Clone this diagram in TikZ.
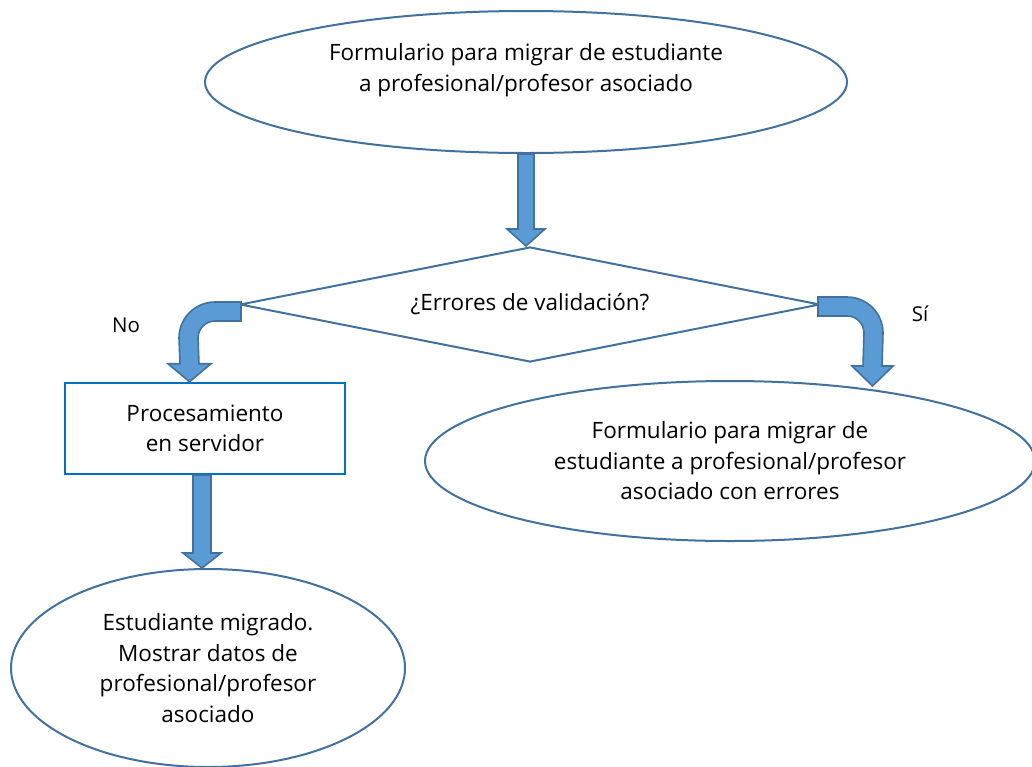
\documentclass[tikz,border=0pt]{standalone}
\usepackage{fontspec}
\setmainfont{Open Sans}
\usetikzlibrary{shapes.geometric,calc}
\definecolor{outl}{RGB}{65,113,156}
\definecolor{afill}{RGB}{91,155,213}
\definecolor{rline}{RGB}{0,112,192}
\begin{document}
\begin{tikzpicture}[x=1pt,y=-1pt,
  oval/.style={ellipse,draw=outl,line width=2pt,inner sep=0pt},
  txt/.style={align=center,font=\fontsize{22.5}{30.5}\selectfont,text=black,inner sep=0pt},
  barrow/.style={fill=afill,draw=outl,line width=1.6pt,line join=miter},
  lbl/.style={font=\fontsize{20.5}{24}\selectfont,text=black}]
\useasboundingbox (0,0) rectangle (1032,766);

% shapes
\node[oval,minimum width=642pt,minimum height=142pt,
  label={[txt,yshift=12pt]center:Formulario para migrar de estudiante\\a profesional/profesor asociado}] (top) at (526,82) {};
\node[diamond,draw=outl,line width=2pt,inner sep=0pt,minimum width=580pt,minimum height=115pt,
  label={[txt]center:¿Errores de validación?}] (dia) at (530,304.5) {};
\node[draw=rline,line width=2.5pt,minimum width=280pt,minimum height=91pt,txt] (proc) at (205,428.5) {Procesamiento\\en servidor};
\node[oval,txt,minimum width=394pt,minimum height=198pt] (ok) at (208,668) {Estudiante migrado.\\Mostrar datos de\\profesional/profesor\\asociado};
\node[oval,txt,minimum width=610pt,minimum height=160pt] (err) at (730,461) {Formulario para migrar de\\estudiante a profesional/profesor\\asociado con errores};

\node[lbl] (no) at (126,325) {No};
\node[lbl] (si) at (920,314) {Sí};

% top straight arrow
\path[barrow] ($(top.south)+(-8,0)$) -- ($(top.south |- dia.north)+(-8,-17)$) -- ++(-11,0)
  -- (top.south |- dia.north) -- ++(19,-17) -- ++(-11,0) -- ($(top.south)+(8,0)$) -- cycle;

% bottom straight arrow
\coordinate (b1) at ($(proc.south)+(-3,0)$);
\path[barrow] ($(b1)+(-9,0)$) -- ($(b1 |- ok.north)+(-9,-15)$) -- ++(-10,0)
  -- (b1 |- ok.north) -- ++(19,-15) -- ++(-10,0) -- ($(b1)+(9,0)$) -- cycle;

% left bent arrow (No)
\coordinate (ls) at ($(dia.west)+(2,-2.5)$);
\coordinate (lt) at ($(proc.north)+(-15.5,0)$);
\path[barrow] (ls) -- ($(ls)+(-26,0)$)
  .. controls ($(ls)+(-45.9,0)$) and ($(ls)+(-62,16.1)$) .. ($(ls)+(-62,36)$)
  -- ($(lt)+(-9.5,-18)$) -- ($(lt)+(-21.5,-18)$) -- (lt) -- ($(lt)+(21.5,-18)$) -- ($(lt)+(9.5,-18)$)
  -- ($(ls)+(-43,36)$)
  .. controls ($(ls)+(-43,26.6)$) and ($(ls)+(-35.4,19)$) .. ($(ls)+(-26,19)$)
  -- ($(ls)+(0,19)$) -- cycle;

% right bent arrow (Si)
\coordinate (rs) at ($(dia.east)+(-3,-7.5)$);
\coordinate (rt) at ($(err.north)+(142.5,6)$);
\path[barrow] (rs) -- ($(rs)+(29,0)$)
  .. controls ($(rs)+(48.9,0)$) and ($(rs)+(65,16.1)$) .. ($(rs)+(65,36)$)
  -- ($(rt)+(9.5,-20)$) -- ($(rt)+(20.5,-20)$) -- (rt) -- ($(rt)+(-20.5,-20)$) -- ($(rt)+(-9.5,-20)$)
  -- ($(rs)+(46,36)$)
  .. controls ($(rs)+(46,26.6)$) and ($(rs)+(38.4,19)$) .. ($(rs)+(29,19)$)
  -- ($(rs)+(0,19)$) -- cycle;
\end{tikzpicture}
\end{document}
